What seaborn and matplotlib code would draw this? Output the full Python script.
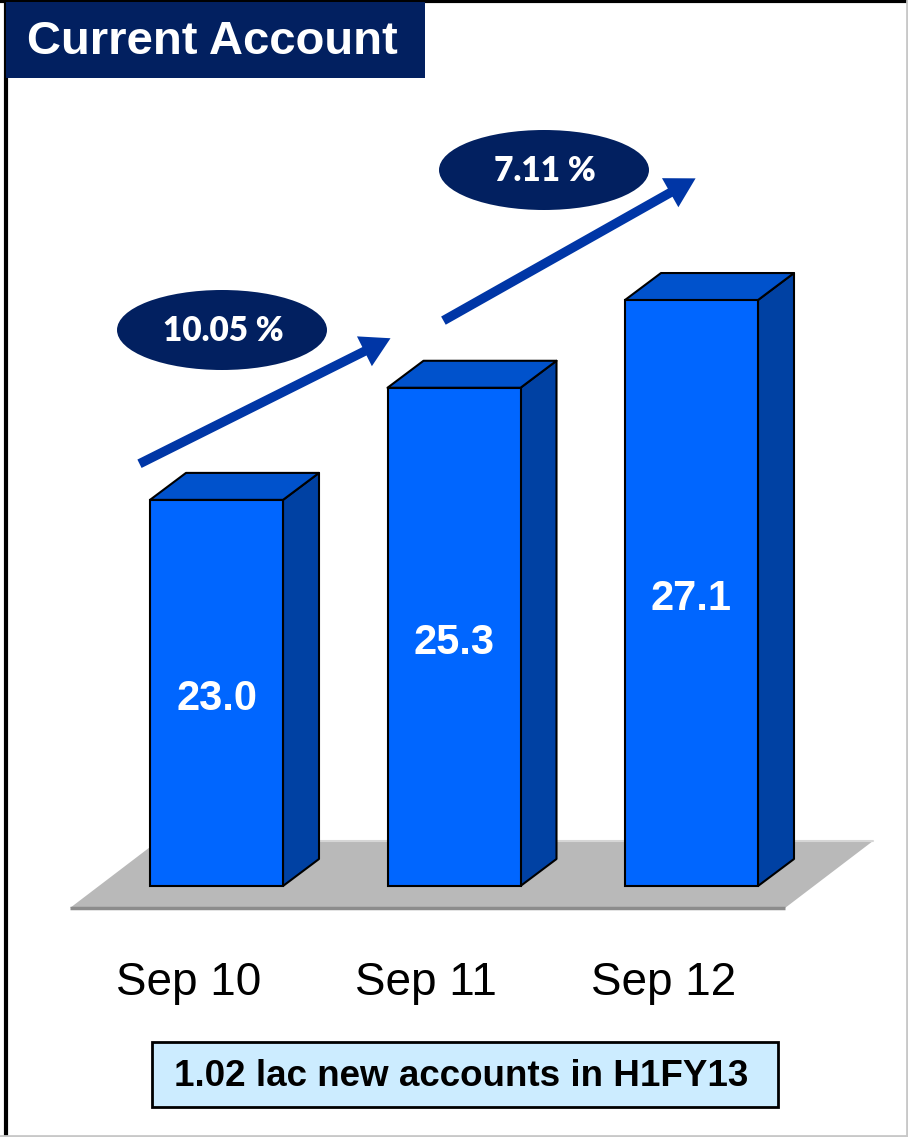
import matplotlib
matplotlib.use("Agg")
import matplotlib.pyplot as plt
from matplotlib.patches import Polygon, Rectangle, Ellipse, FancyArrowPatch
import seaborn as sns
import pandas as pd

# ---- data ----
periods = ["Sep 10", "Sep 11", "Sep 12"]
balances = [23.0, 25.3, 27.1]
growth_labels = ["10.05 %", "7.11 %"]
title = "Current Account"
footnote = "1.02 lac new accounts in H1FY13"

# ---- style ----
FRONT = "#0066FF"
SIDE = "#0041A3"
TOP = "#0052CC"
NAVY = "#022060"
ARROW = "#0036A6"
FLOOR = "#B9B9B9"

sns.set_theme(style="white")
plt.rcParams["font.family"] = ["Liberation Sans", "DejaVu Sans"]

W, H = 908, 1137
fig = plt.figure(figsize=(W / 100, H / 100), dpi=100)
fig.patch.set_facecolor("white")
ax = fig.add_axes([0, 0, 1, 1])

# linear scales: 237.5 px per category, 48.75 px per unit
PX_X, PX_Y = 237.5, 48.75
BASE = 15.08                      # value sitting on the floor plane

df = pd.DataFrame({"period": periods, "balance": balances})
sns.barplot(data=df, x="period", y="balance", color=FRONT, width=0.56,
            edgecolor="black", linewidth=1.5, saturation=1, ax=ax, zorder=3)
ax.set_xlim(-216.5 / PX_X, (W - 216.5) / PX_X)
ax.set_ylim(BASE - (H - 886) / PX_Y, BASE + 886 / PX_Y)
ax.set_axis_off()

# depth of the extrusion, in data units
DX, DY = 36 / PX_X, 27 / PX_Y

# floor plane
fx0, fx1 = (70 - 216.5) / PX_X, (785 - 216.5) / PX_X
fy0 = BASE - 22 / PX_Y
fdx, fdy = 88 / PX_X, 67 / PX_Y
ax.add_patch(Polygon([(fx0, fy0), (fx1, fy0), (fx1 + fdx, fy0 + fdy),
                      (fx0 + fdx, fy0 + fdy)], closed=True,
                     facecolor=FLOOR, edgecolor="none", zorder=1))
ax.plot([fx0, fx1], [fy0, fy0], color="#8C8C8C", lw=2.5, zorder=1.5,
        solid_capstyle="butt")
ax.plot([fx0 + fdx, fx1 + fdx], [fy0 + fdy, fy0 + fdy], color="#D6D6D6",
        lw=1.5, zorder=1.5)

# extrude each bar: top and right side faces
for bar, val in zip(ax.patches[:len(balances)], balances):
    bar.set_y(BASE)
    bar.set_height(val - BASE)
    xl = bar.get_x()
    xr = xl + bar.get_width()
    side = [(xr, BASE), (xr + DX, BASE + DY), (xr + DX, val + DY), (xr, val)]
    top = [(xl, val), (xl + DX, val + DY), (xr + DX, val + DY), (xr, val)]
    ax.add_patch(Polygon(side, closed=True, facecolor=SIDE, edgecolor="black",
                         lw=1.5, zorder=2.9, joinstyle="round"))
    ax.add_patch(Polygon(top, closed=True, facecolor=TOP, edgecolor="black",
                         lw=1.5, zorder=2.9, joinstyle="round"))
    ax.text(xl + bar.get_width() / 2, (BASE + val) / 2 - 6 / PX_Y,
            f"{val:.1f}", ha="center", va="center", color="white",
            fontsize=30, fontweight="bold", zorder=5)

# category labels under the floor
for i, p in enumerate(periods):
    ax.text(i - 28 / PX_X, BASE - 97 / PX_Y, p, ha="center", va="center",
            fontsize=33, color="black", zorder=5)

# growth arrows with their ellipse badges (figure pixel coordinates)
def px(x, y):
    return (x / W, 1 - y / H)

arrows = [((137, 465), (393, 337)), ((441, 322), (698, 177))]
badges = [(222, 330), (544, 170)]
for (a, b), (cx, cy), lab in zip(arrows, badges, growth_labels):
    fig.patches.append(FancyArrowPatch(px(*a), px(*b), transform=fig.transFigure,
                                       arrowstyle="simple,head_length=1.4,head_width=1.6,tail_width=0.45",
                                       mutation_scale=15, color=ARROW, lw=0,
                                       zorder=4))
    fig.patches.append(Ellipse(px(cx, cy), 210 / W, 80 / H,
                               transform=fig.transFigure, facecolor=NAVY,
                               edgecolor="none", zorder=4))
    fig.text(*px(cx + 1, cy + 1), lab, ha="center", va="center",
             color="white", fontsize=24, fontweight="heavy",
             family=["Lato", "DejaVu Sans"], zorder=6)

# title banner
fig.patches.append(Rectangle(px(6, 78), 419 / W, 76 / H,
                             transform=fig.transFigure, facecolor=NAVY,
                             edgecolor="none", zorder=4))
fig.text(*px(27, 42), title, ha="left", va="center", color="white",
         fontsize=34, fontweight="bold", zorder=6)

# footnote box
fig.patches.append(Rectangle(px(152, 1107), 626 / W, 65 / H,
                             transform=fig.transFigure, facecolor="#CCECFF",
                             edgecolor="black", lw=2, zorder=4))
fig.text(*px(461, 1076), footnote, ha="center", va="center", color="black",
         fontsize=26.5, fontweight="bold", zorder=6)

# outer frame
fig.add_artist(plt.Line2D([5.5 / W, 5.5 / W], [0, 1], color="black", lw=3,
                          transform=fig.transFigure))
fig.add_artist(plt.Line2D([0, 1], [1 - 1 / H, 1 - 1 / H], color="black", lw=3,
                          transform=fig.transFigure))
fig.add_artist(plt.Line2D([906.5 / W, 906.5 / W], [0, 1], color="#C8C8C8",
                          lw=2, transform=fig.transFigure))
fig.add_artist(plt.Line2D([0, 1], [1.5 / H, 1.5 / H], color="#C8C8C8", lw=2,
                          transform=fig.transFigure))

fig.savefig("out.png", dpi=100)
